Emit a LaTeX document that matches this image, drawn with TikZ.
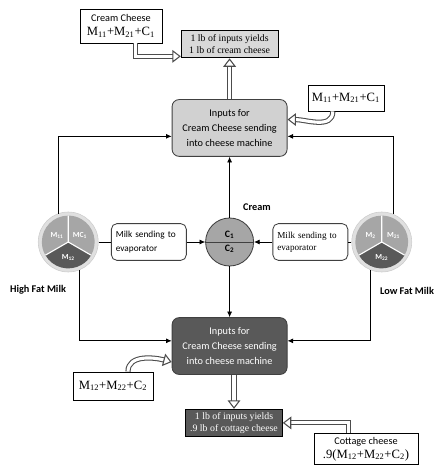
\documentclass[tikz,border=0pt]{standalone}
\usepackage{fontspec}
\setmainfont{Liberation Serif}
\setsansfont{Carlito}
\usetikzlibrary{arrows.meta, positioning}

\begin{document}
\begin{tikzpicture}[
    % node styles
    inputbox/.style={
        rectangle,
        rounded corners=5pt,
        draw=black!75,
        line width=0.6pt,
        minimum width=2.875cm,
        minimum height=1.42cm,
        align=center,
        font=\sffamily\fontsize{7.3}{10.5}\selectfont
    },
    yieldbox/.style={
        rectangle,
        draw=black,
        line width=0.6pt,
        minimum width=2.42cm,
        minimum height=0.68cm,
        inner sep=1pt,
        align=center,
        font=\fontsize{7}{8.5}\selectfont
    },
    sumbox/.style={
        rectangle,
        draw=black,
        fill=white,
        line width=0.6pt,
        inner sep=1pt,
        align=center,
        font=\fontsize{9}{10}\selectfont
    },
    milkbox/.style={
        rectangle,
        rounded corners=4pt,
        draw=black!75,
        fill=white,
        line width=0.6pt,
        minimum width=1.875cm,
        minimum height=0.92cm,
        text width=1.65cm,
        inner sep=2pt,
        align=left
    },
    creambox/.style={
        circle,
        draw=black!75,
        fill=black!35,
        line width=0.6pt,
        minimum size=1.2cm,
        inner sep=0pt,
        align=center,
        font=\sffamily\bfseries\fontsize{7}{10}\selectfont
    },
    pie/.style={circle, draw=black!20, fill=black!12, minimum size=1.5cm, inner sep=0pt},
    pielabel/.style={text=white, inner sep=0pt, font=\sffamily\bfseries\fontsize{5.5}{6}\selectfont},
    milklabel/.style={font=\sffamily\bfseries\fontsize{7.3}{8}\selectfont},
    % connector styles
    arr/.style={-{Latex[length=4pt,width=3.5pt]}, line width=0.5pt},
    hollow/.style={
        draw=black!70,
        line width=0.75pt,
        double=white,
        double distance=2.2pt,
        -{Triangle[open,length=6pt,width=9pt]}
    }
    ]

    \useasboundingbox (0,0) rectangle (10.875,11.65);

    % middle column
    \node[creambox] (cream) at (5.74,5.6) {C\textsubscript{1}\\C\textsubscript{2}};
    \draw[black!75, line width=0.6pt] (cream.west) -- (cream.east);

    \node[inputbox, fill=black!18, above=1.52cm of cream] (intop) {Inputs for\\Cream Cheese sending\\into cheese machine};
    \node[inputbox, fill=black!65, text=white, below=1.27cm of cream] (inbot) {Inputs for\\Cream Cheese sending\\into cheese machine};

    \node[yieldbox, fill=black!15, above=1.02cm of intop] (yield1) {1 lb of inputs yields\\1 lb of cream cheese};
    \node[yieldbox, fill=black!65, text=white, below=0.85cm of inbot, xshift=0.11cm] (yield2) {1 lb of inputs yields\\.9 lb of cottage cheese};

    % evaporator boxes
    \node[milkbox, font=\sffamily\fontsize{6.6}{9.5}\selectfont, left=0.46cm of cream] (milk1) {Milk sending to\\evaporator};
    \node[milkbox, font=\fontsize{6.5}{8.5}\selectfont, right=0.46cm of cream] (milk2) {Milk sending to\\evaporator};

    % milk pies
    \node[pie, left=0.31cm of milk1] (hfm) {};
    \node[pie, right=0.08cm of milk2] (lfm) {};

    \fill[black!35] (hfm.center) -- ++(90:0.66) arc[start angle=90, end angle=210, radius=0.66] -- cycle;
    \fill[black!35] (hfm.center) -- ++(-30:0.66) arc[start angle=-30, end angle=90, radius=0.66] -- cycle;
    \fill[black!65] (hfm.center) -- ++(210:0.66) arc[start angle=210, end angle=330, radius=0.66] -- cycle;
    \draw[white, line width=0.8pt] (hfm.center) -- ++(90:0.66) (hfm.center) -- ++(210:0.66) (hfm.center) -- ++(330:0.66);

    \fill[black!35] (lfm.center) -- ++(90:0.66) arc[start angle=90, end angle=210, radius=0.66] -- cycle;
    \fill[black!35] (lfm.center) -- ++(-30:0.66) arc[start angle=-30, end angle=90, radius=0.66] -- cycle;
    \fill[black!65] (lfm.center) -- ++(210:0.66) arc[start angle=210, end angle=330, radius=0.66] -- cycle;
    \draw[white, line width=0.8pt] (lfm.center) -- ++(90:0.66) (lfm.center) -- ++(210:0.66) (lfm.center) -- ++(330:0.66);

    \node[pielabel] (hfm11) at ([shift={(150:0.32)}]hfm.center) {M\textsubscript{11}};
    \node[pielabel] (hfmc1) at ([shift={(30:0.34)}]hfm.center) {MC\textsubscript{1}};
    \node[pielabel] (hfm12) at ([shift={(270:0.38)}]hfm.center) {M\textsubscript{12}};
    \node[pielabel] (lfm2) at ([shift={(150:0.32)}]lfm.center) {M\textsubscript{2}};
    \node[pielabel] (lfm21) at ([shift={(30:0.34)}]lfm.center) {M\textsubscript{21}};
    \node[pielabel] (lfm22) at ([shift={(270:0.38)}]lfm.center) {M\textsubscript{22}};

    % labels
    \node[milklabel] (hfmlbl) at (0.95,4.4) {High Fat Milk};
    \node[milklabel] (lfmlbl) at (10.175,4.375) {Low Fat Milk};
    \node[milklabel] (creamlbl) at (6.425,6.475) {Cream};

    % formula boxes
    \node[sumbox, minimum width=2.05cm, minimum height=0.85cm] (ccbox) at (3.025,11.0) {{\sffamily\fontsize{7.3}{9}\selectfont Cream Cheese}\\M\textsubscript{11}+M\textsubscript{21}+C\textsubscript{1}};
    \node[sumbox, minimum width=1.9cm, minimum height=0.65cm] (sum1) at (8.65,9.2) {M\textsubscript{11}+M\textsubscript{21}+C\textsubscript{1}};
    \node[sumbox, minimum width=2cm, minimum height=0.7cm] (sum2) at (2.825,2.0) {M\textsubscript{12}+M\textsubscript{22}+C\textsubscript{2}};
    \node[sumbox, minimum width=2.6cm, minimum height=0.775cm] (cottage) at (9.15,0.425) {{\sffamily\fontsize{7.3}{9}\selectfont Cottage cheese}\\.9(M\textsubscript{12}+M\textsubscript{22}+C\textsubscript{2})};

    % connectors
    \draw (hfm) -- (milk1);
    \draw[arr] (milk1) -- (cream);
    \draw (lfm) -- (milk2);
    \draw[arr] (milk2) -- (cream);
    \draw[arr] (cream) -- (intop);
    \draw[arr] (cream) -- (inbot);
    \draw[arr] (hfm.110) |- ([yshift=-0.21cm]intop.west);
    \draw[arr] (hfm.-68) |- ([yshift=0.13cm]inbot.west);
    \draw[arr] (lfm.68) |- ([yshift=-0.21cm]intop.east);
    \draw[arr] (lfm.-112) |- ([yshift=0.13cm]inbot.east);

    % hollow arrows
    \draw[hollow] (intop) -- (yield1);
    \draw[hollow] (inbot.south -| yield2.north) -- (yield2.north);
    \draw[hollow] ([xshift=0.37cm]ccbox.south) |- ([yshift=0.05cm]yield1.south west);
    \draw[hollow] ([xshift=-0.44cm]cottage.north) |- (yield2.east);
    \draw[hollow] ([xshift=-0.33cm]sum1.south) to[out=-90, in=0] ([yshift=0.21cm]intop.east);
    \draw[hollow] ([xshift=0.375cm]sum2.north) to[out=90, in=165] ([yshift=-0.4cm]inbot.west);

\end{tikzpicture}
\end{document}
